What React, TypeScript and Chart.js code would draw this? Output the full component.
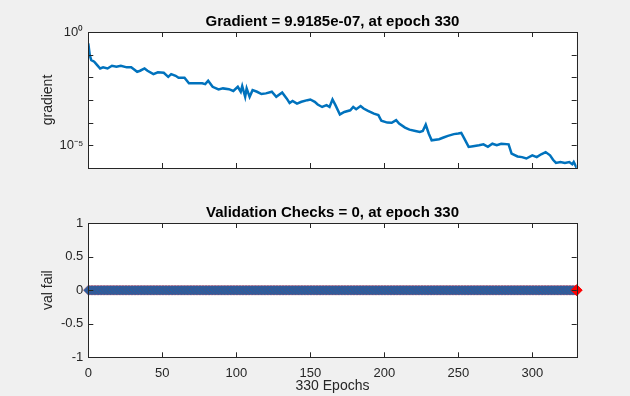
import React, { useEffect, useRef } from 'react';
import { Chart, registerables } from 'chart.js';

Chart.register(...registerables);

const FONT = '"Liberation Sans", Arial, Helvetica, sans-serif';

const gradTitle = 'Gradient = 9.9185e-07, at epoch 330';
const valTitle = 'Validation Checks = 0, at epoch 330';
const gradYLabel = 'gradient';
const valYLabel = 'val fail';
const xLabel = '330 Epochs';

const gradEpochs = [
  0, 1, 2, 4, 6, 8, 10, 13, 16, 19, 22, 26, 29, 33, 35, 38, 40, 44, 47, 51,
  54, 56, 59, 61, 65, 68, 72, 77, 79, 81, 84, 88, 91, 95, 98, 101, 103, 104, 106, 107,
  109, 111, 114, 117, 120, 124, 127, 131, 134, 136, 138, 141, 144, 148, 150, 153, 155, 158, 161, 163,
  165, 167, 170, 173, 177, 179, 181, 184, 186, 189, 193, 196, 198, 202, 205, 208, 210, 214, 217, 221,
  224, 226, 228, 230, 232, 237, 240, 243, 247, 250, 252, 254, 257, 260, 264, 267, 270, 273, 276, 279,
  284, 286, 290, 293, 296, 300, 303, 306, 309, 312, 314, 316, 319, 322, 325, 327, 328, 330,
];

const gradValues = [
  3.16e-1, 9.5e-2, 5.75e-2, 4.9e-2, 3.47e-2, 2.45e-2, 2.75e-2, 2.45e-2, 3.24e-2, 2.95e-2,
  3.24e-2, 2.75e-2, 2.75e-2, 1.74e-2, 1.95e-2, 2.45e-2, 1.95e-2, 1.38e-2, 1.66e-2, 1.58e-2,
  1.05e-2, 1.38e-2, 1.17e-2, 9.5e-3, 9.5e-3, 5.4e-3, 5.4e-3, 5.4e-3, 5.0e-3, 7.1e-3,
  3.8e-3, 2.9e-3, 3.24e-3, 3.0e-3, 2.5e-3, 3.8e-3, 2.3e-3, 4.1e-3, 1.38e-3, 3.24e-3,
  1.38e-3, 2.7e-3, 2.3e-3, 1.82e-3, 1.95e-3, 2.3e-3, 1.38e-3, 2.14e-3, 1.17e-3, 7.4e-4,
  9.1e-4, 6.9e-4, 8.3e-4, 9.8e-4, 1.05e-3, 8.3e-4, 6.3e-4, 4.9e-4, 5.9e-4, 4.9e-4,
  1.05e-3, 5.9e-4, 2.3e-4, 2.95e-4, 3.5e-4, 4.9e-4, 3.9e-4, 5.4e-4, 4.2e-4, 3.3e-4,
  2.5e-4, 2.14e-4, 1.2e-4, 1.0e-4, 9.8e-5, 1.29e-4, 9.1e-5, 6.0e-5, 4.9e-5, 4.3e-5,
  3.9e-5, 4.3e-5, 8.1e-5, 3.3e-5, 1.66e-5, 1.86e-5, 2.2e-5, 2.6e-5, 3.1e-5, 3.3e-5,
  3.5e-5, 2.0e-5, 8.5e-6, 9.1e-6, 1.0e-5, 1.1e-5, 8.5e-6, 1.17e-5, 1.0e-5, 1.17e-5,
  1.1e-5, 4.3e-6, 3.2e-6, 3.0e-6, 2.6e-6, 3.6e-6, 3.0e-6, 4.0e-6, 5.0e-6, 3.6e-6,
  2.3e-6, 1.66e-6, 1.82e-6, 1.66e-6, 1.82e-6, 1.45e-6, 1.82e-6, 9.9185e-7,
];

// validation failures per epoch 0..330
const valFail = [
  0, 0, 0, 0, 0, 0, 0, 0, 0, 0, 0, 0, 0, 0, 0, 0, 0, 0, 0, 0, 0, 0, 0, 0, 0, 0, 0, 0, 0, 0,
  0, 0, 0, 0, 0, 0, 0, 0, 0, 0, 0, 0, 0, 0, 0, 0, 0, 0, 0, 0, 0, 0, 0, 0, 0, 0, 0, 0, 0, 0,
  0, 0, 0, 0, 0, 0, 0, 0, 0, 0, 0, 0, 0, 0, 0, 0, 0, 0, 0, 0, 0, 0, 0, 0, 0, 0, 0, 0, 0, 0,
  0, 0, 0, 0, 0, 0, 0, 0, 0, 0, 0, 0, 0, 0, 0, 0, 0, 0, 0, 0, 0, 0, 0, 0, 0, 0, 0, 0, 0, 0,
  0, 0, 0, 0, 0, 0, 0, 0, 0, 0, 0, 0, 0, 0, 0, 0, 0, 0, 0, 0, 0, 0, 0, 0, 0, 0, 0, 0, 0, 0,
  0, 0, 0, 0, 0, 0, 0, 0, 0, 0, 0, 0, 0, 0, 0, 0, 0, 0, 0, 0, 0, 0, 0, 0, 0, 0, 0, 0, 0, 0,
  0, 0, 0, 0, 0, 0, 0, 0, 0, 0, 0, 0, 0, 0, 0, 0, 0, 0, 0, 0, 0, 0, 0, 0, 0, 0, 0, 0, 0, 0,
  0, 0, 0, 0, 0, 0, 0, 0, 0, 0, 0, 0, 0, 0, 0, 0, 0, 0, 0, 0, 0, 0, 0, 0, 0, 0, 0, 0, 0, 0,
  0, 0, 0, 0, 0, 0, 0, 0, 0, 0, 0, 0, 0, 0, 0, 0, 0, 0, 0, 0, 0, 0, 0, 0, 0, 0, 0, 0, 0, 0,
  0, 0, 0, 0, 0, 0, 0, 0, 0, 0, 0, 0, 0, 0, 0, 0, 0, 0, 0, 0, 0, 0, 0, 0, 0, 0, 0, 0, 0, 0,
  0, 0, 0, 0, 0, 0, 0, 0, 0, 0, 0, 0, 0, 0, 0, 0, 0, 0, 0, 0, 0, 0, 0, 0, 0, 0, 0, 0, 0, 0,
  0,
];

const bestEpoch = 330;
const bestValFail = 0;

const xTicks = [0, 50, 100, 150, 200, 250, 300];
const gradTicks = [1e-5, 1e-4, 1e-3, 1e-2, 1e-1, 1];
const gradTickLabels = ['10⁻⁵', '', '', '', '', '10⁰'];
const valTicks = [-1, -0.5, 0, 0.5, 1];
const valTickLabels = ['-1', '-0.5', '0', '0.5', '1'];

const BLUE = '#0072BD';
const AXIS = '#262626';

const axesBox = {
  id: 'axesBox',
  beforeDatasetsDraw(chart: any) {
    const { ctx, chartArea: a } = chart;
    ctx.save();
    ctx.fillStyle = '#ffffff';
    ctx.fillRect(a.left, a.top, a.right - a.left, a.bottom - a.top);
    ctx.restore();
  },
  afterDraw(chart: any) {
    const { ctx, chartArea: a, scales } = chart;
    const len = 5;
    ctx.save();
    ctx.strokeStyle = AXIS;
    ctx.lineWidth = 1;
    ctx.beginPath();
    scales.x.ticks.forEach((t: any) => {
      const px = Math.round(scales.x.getPixelForValue(t.value)) + 0.5;
      ctx.moveTo(px, a.bottom);
      ctx.lineTo(px, a.bottom - len);
      ctx.moveTo(px, a.top);
      ctx.lineTo(px, a.top + len);
    });
    scales.y.ticks.forEach((t: any) => {
      const py = Math.round(scales.y.getPixelForValue(t.value)) + 0.5;
      ctx.moveTo(a.left, py);
      ctx.lineTo(a.left + len, py);
      ctx.moveTo(a.right, py);
      ctx.lineTo(a.right - len, py);
    });
    ctx.stroke();
    ctx.strokeRect(
      Math.round(a.left) + 0.5,
      Math.round(a.top) + 0.5,
      Math.round(a.right) - Math.round(a.left),
      Math.round(a.bottom) - Math.round(a.top)
    );
    ctx.restore();
  },
};

const PLOT_LEFT = 88.3;
const PAD_RIGHT = 630 - 576.7;

function GradientChart() {
  const ref = useRef<HTMLCanvasElement>(null);
  useEffect(() => {
    if (!ref.current) return;
    const chart = new Chart(ref.current, {
      type: 'line',
      data: {
        datasets: [
          {
            data: gradEpochs.map((x, i) => ({ x, y: gradValues[i] })),
            borderColor: BLUE,
            borderWidth: 2.5,
            pointRadius: 0,
            tension: 0,
            fill: false,
          },
        ],
      },
      options: {
        animation: false,
        responsive: false,
        layout: { padding: { left: 0, right: PAD_RIGHT, top: 0, bottom: 22 } },
        plugins: {
          legend: { display: false },
          tooltip: { enabled: false },
          title: {
            display: true,
            fullSize: false,
            text: gradTitle,
            color: '#000000',
            font: { family: FONT, size: 15, weight: 'bold' },
            padding: { top: 13, bottom: 1 },
          },
        },
        scales: {
          x: {
            type: 'linear',
            min: 0,
            max: 330,
            grid: { display: false, drawTicks: false },
            border: { display: false },
            ticks: { display: false },
            afterBuildTicks: (s: any) => {
              s.ticks = xTicks.map((v) => ({ value: v }));
            },
            afterFit: (s: any) => {
              s.height = 0;
            },
          },
          y: {
            type: 'logarithmic',
            min: 9.9185e-7,
            max: 1,
            grid: { display: false, drawTicks: false },
            border: { display: false },
            ticks: {
              autoSkip: false,
              padding: 5,
              color: AXIS,
              font: { family: FONT, size: 13 },
              callback: (_v: any, i: number) => gradTickLabels[i] ?? '',
            },
            afterBuildTicks: (s: any) => {
              s.ticks = gradTicks.map((v) => ({ value: v }));
            },
            afterFit: (s: any) => {
              s.width = PLOT_LEFT;
            },
            title: {
              display: true,
              text: gradYLabel,
              color: AXIS,
              font: { family: FONT, size: 14 },
              padding: { top: 39.6, bottom: 0 },
            },
          },
        },
      } as any,
      plugins: [axesBox],
    });
    return () => chart.destroy();
  }, []);
  return (
    <canvas
      ref={ref}
      width={630}
      height={190}
      style={{ position: 'absolute', left: 0, top: 0, width: 630, height: 190 }}
    />
  );
}

function ValFailChart() {
  const ref = useRef<HTMLCanvasElement>(null);
  useEffect(() => {
    if (!ref.current) return;
    const chart = new Chart(ref.current, {
      type: 'line',
      data: {
        datasets: [
          {
            data: valFail.map((v, i) => ({ x: i, y: v })),
            order: 2,
            borderColor: BLUE,
            borderWidth: 2,
            pointStyle: 'rectRot',
            pointRadius: 5,
            pointBackgroundColor: BLUE,
            pointBorderColor: 'rgba(210,20,40,0.6)',
            pointBorderWidth: 0.6,
            tension: 0,
            fill: false,
            clip: false,
          },
          {
            data: [{ x: bestEpoch, y: bestValFail }],
            order: 1,
            showLine: false,
            pointStyle: 'rectRot',
            pointRadius: 5.5,
            pointBackgroundColor: '#ff0000',
            pointBorderColor: '#ff0000',
            pointBorderWidth: 1,
            clip: false,
          },
        ],
      },
      options: {
        animation: false,
        responsive: false,
        layout: { padding: { left: 0, right: PAD_RIGHT, top: 0, bottom: 0 } },
        plugins: {
          legend: { display: false },
          tooltip: { enabled: false },
          title: {
            display: true,
            fullSize: false,
            text: valTitle,
            color: '#000000',
            font: { family: FONT, size: 15, weight: 'bold' },
            padding: { top: 13, bottom: 1 },
          },
        },
        scales: {
          x: {
            type: 'linear',
            min: 0,
            max: 330,
            grid: { display: false, drawTicks: false },
            border: { display: false },
            ticks: {
              autoSkip: false,
              maxRotation: 0,
              padding: 8,
              color: AXIS,
              font: { family: FONT, size: 13 },
            },
            afterBuildTicks: (s: any) => {
              s.ticks = xTicks.map((v) => ({ value: v }));
            },
            afterFit: (s: any) => {
              s.height = 38.7;
            },
            title: {
              display: true,
              text: xLabel,
              color: AXIS,
              font: { family: FONT, size: 14 },
              padding: { top: 0, bottom: 1.6 },
            },
          },
          y: {
            type: 'linear',
            min: -1,
            max: 1,
            grid: { display: false, drawTicks: false },
            border: { display: false },
            ticks: {
              autoSkip: false,
              padding: 5,
              color: AXIS,
              font: { family: FONT, size: 13 },
              callback: (_v: any, i: number) => valTickLabels[i] ?? '',
            },
            afterBuildTicks: (s: any) => {
              s.ticks = valTicks.map((v) => ({ value: v }));
            },
            afterFit: (s: any) => {
              s.width = PLOT_LEFT;
            },
            title: {
              display: true,
              text: valYLabel,
              color: AXIS,
              font: { family: FONT, size: 14 },
              padding: { top: 39.6, bottom: 0 },
            },
          },
        },
      } as any,
      plugins: [axesBox],
    });
    return () => chart.destroy();
  }, []);
  return (
    <canvas
      ref={ref}
      width={630}
      height={205}
      style={{ position: 'absolute', left: 0, top: 191, width: 630, height: 205 }}
    />
  );
}

export default function App() {
  return (
    <div
      style={{
        position: 'fixed',
        left: 0,
        top: 0,
        width: 630,
        height: 396,
        background: '#f0f0f0',
        overflow: 'hidden',
      }}
    >
      <GradientChart />
      <ValFailChart />
    </div>
  );
}
